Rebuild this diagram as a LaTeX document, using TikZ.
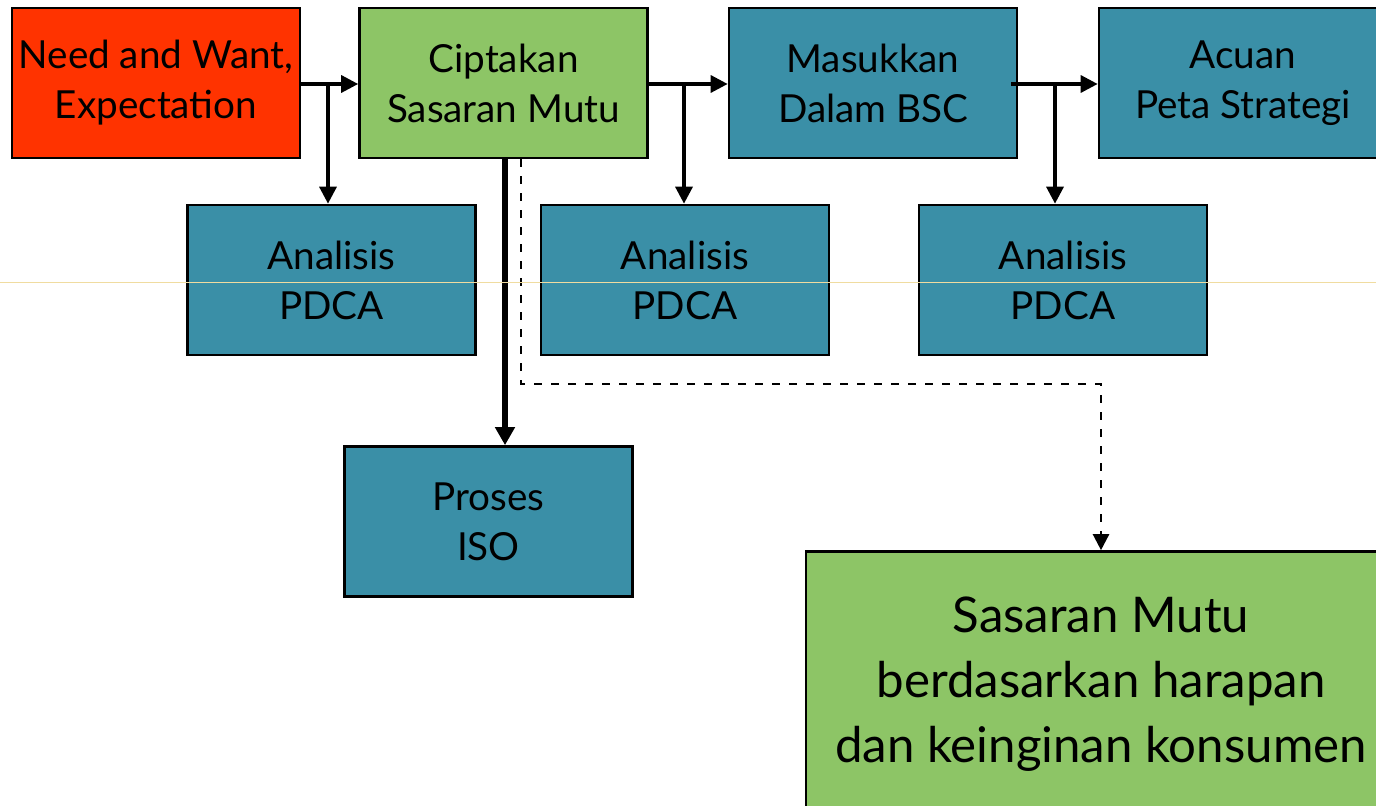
\documentclass[tikz,border=0pt]{standalone}
\usepackage{fontspec}
\setmainfont{Lato}
\usepackage{xcolor}
\usepackage{tikz}
\usetikzlibrary{calc,arrows.meta}

\definecolor{needred}{RGB}{255,51,0}
\definecolor{mutugreen}{RGB}{141,197,102}
\definecolor{bscteal}{RGB}{58,143,167}
\definecolor{guideline}{RGB}{240,220,160}

\begin{document}
\begin{tikzpicture}[
    box/.style = {draw=black, line width=1.5pt, minimum width=5.76cm, minimum height=3cm,
                  inner sep=0pt, align=center, font=\fontsize{22}{28.5}\selectfont},
    bigbox/.style = {box, minimum width=11.8cm, minimum height=5.3cm,
                  font=\fontsize{28}{37}\selectfont},
    link/.style = {line width=1.9pt, -{Triangle[length=0.34cm,width=0.34cm]}},
    thick link/.style = {line width=3.6pt, -{Triangle[length=0.36cm,width=0.38cm]}},
    dash link/.style = {line width=1.4pt, dash pattern=on 0.16cm off 0.18cm,
                  -{Triangle[length=0.32cm,width=0.32cm]}}
  ]
    \useasboundingbox (0,0) rectangle (27.52,-16.12);
    \clip (0,0) rectangle (27.52,-16.12);

    \node[box, fill=needred] (need) at (3.12,-1.66) {Need and Want,\\Expectation};
    \node[box, fill=mutugreen] (cipta) at (10.07,-1.66) {Ciptakan\\Sasaran Mutu};
    \node[box, fill=bscteal] (masuk) at (17.46,-1.66) {Masukkan\\Dalam BSC};
    \node[box, fill=bscteal] (acuan) at (24.86,-1.66) {Acuan\\Peta Strategi};

    \node[box, fill=bscteal] (pdca1) at (6.63,-5.6) {Analisis\\PDCA};
    \node[box, fill=bscteal] (pdca2) at (13.70,-5.6) {Analisis\\PDCA};
    \node[box, fill=bscteal] (pdca3) at (21.26,-5.6) {Analisis\\PDCA};

    \node[box, fill=bscteal] (iso) at (9.77,-10.43) {Proses\\ISO};
    \node[bigbox, fill=mutugreen] (hasil) at (22.02,-13.68)
      {Sasaran Mutu\\berdasarkan harapan\\dan keinginan konsumen};

    % branch points on the top row
    \coordinate (b1) at (6.56,-1.68);
    \coordinate (b2) at (13.68,-1.68);
    \coordinate (b3) at (21.10,-1.68);
    \coordinate (m0) at ($(masuk.east)+(-0.14,-0.02)$);

    \draw[link] (need.east |- b1) to (cipta.west |- b1);
    \draw[link] (b1) to (b1 |- pdca1.north);
    \draw[link] (cipta.east |- b2) to (masuk.west |- b2);
    \draw[link] (b2) to (b2 |- pdca2.north);
    \draw[link] (m0) to (acuan.west |- m0);
    \draw[link] (b3) to (b3 |- pdca3.north);

    % down from Ciptakan
    \coordinate (t0) at ([xshift=0.03cm]cipta.south);
    \draw[thick link] (t0) to (t0 |- iso.north);
    \coordinate (d0) at ([xshift=0.35cm]cipta.south);
    \coordinate (d1) at (d0 |- 0,-7.68);
    \draw[dash link] (d0) -- (d1) -- (d1 -| hasil.north) -- (hasil.north);

    % faint guide line of the slide
    \draw[guideline, line width=0.5pt] (0,-5.64) -- (27.52,-5.64);
  \end{tikzpicture}
\end{document}
